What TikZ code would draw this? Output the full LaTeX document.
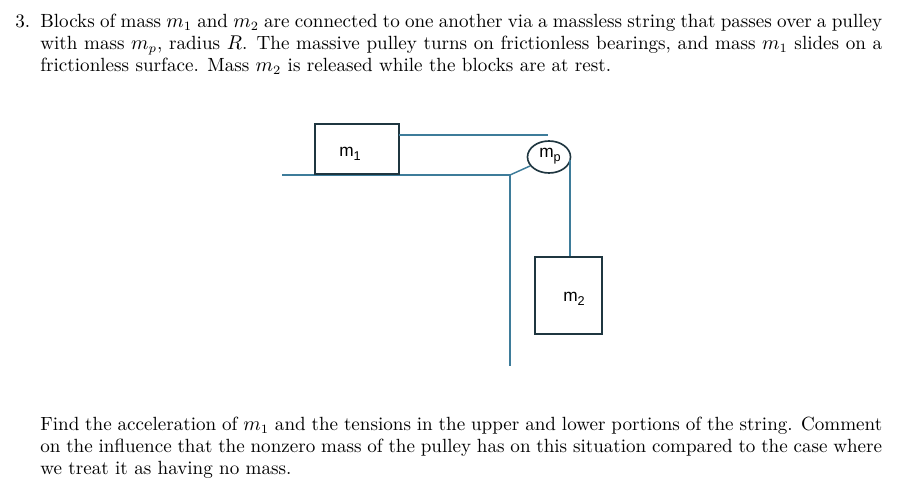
\documentclass[tikz,border=0pt]{standalone}
\usepackage{fontspec}
\setsansfont{Liberation Sans}
\newcommand{\lowsub}[1]{\raisebox{-0.45ex}{\fontsize{7}{8}\selectfont #1}}
\begin{document}
\begin{tikzpicture}[x=0.55pt,y=-0.55pt,
  line/.style={draw=lin,line width=0.8pt},
  box/.style={draw=bx,line width=0.9pt},
  lbl/.style={font=\sffamily\fontsize{9.5}{11}\selectfont,inner sep=0pt},
  para/.style={anchor=north west,inner sep=0pt,text width=463pt,align=justify,font=\fontsize{10.5}{12.1}\selectfont}]
\definecolor{lin}{HTML}{3E7C9A}
\definecolor{bx}{HTML}{1F3640}
\useasboundingbox (0,0) rectangle (921,497);
\node[anchor=north west,inner sep=0pt,font=\fontsize{10.5}{12.1}\selectfont] (num) at (15,14) {3.};
\node[para] (top) at (40,14) {Blocks of mass $m_1$ and $m_2$ are connected to one another via a massless string that passes over a pulley with mass $m_p$, radius $R$. The massive pulley turns on frictionless bearings, and mass $m_1$ slides on a frictionless surface. Mass $m_2$ is released while the blocks are at rest.};
\node[para] (bot) at (40,417) {Find the acceleration of $m_1$ and the tensions in the upper and lower portions of the string. Comment on the influence that the nonzero mass of the pulley has on this situation compared to the case where we treat it as having no mass.};
% geometry
\coordinate (tl) at (282,175);
\coordinate (corner) at (510,175);
\coordinate (leg) at (510,366);
\coordinate (sup) at (530,166);
\draw[line] (tl) -- (corner) -- (leg);
\draw[line] (corner) -- (sup);
\node[box,minimum width=84*0.55pt,minimum height=50*0.55pt,inner sep=0pt] (m1) at (357,149) {};
\node[lbl] (m1l) at (350,154) {m\lowsub{1}};
\coordinate (pc) at (549,157);
\draw[box] (pc) ellipse (21.5 and 16);
\node[lbl] (pl) at (550,156) {m\lowsub{p}};
\node[box,minimum width=67*0.55pt,minimum height=77*0.55pt,inner sep=0pt] (m2) at (568.5,295.5) {};
\node[lbl] (m2l) at (574,299) {m\lowsub{2}};
\coordinate (s1) at (399,135);
\coordinate (s2) at (548,135);
\coordinate (s3) at (570,160);
\draw[line] (s1) -- (s2);
\draw[line] (s3) -- (s3 |- m2.north);
\end{tikzpicture}
\end{document}
